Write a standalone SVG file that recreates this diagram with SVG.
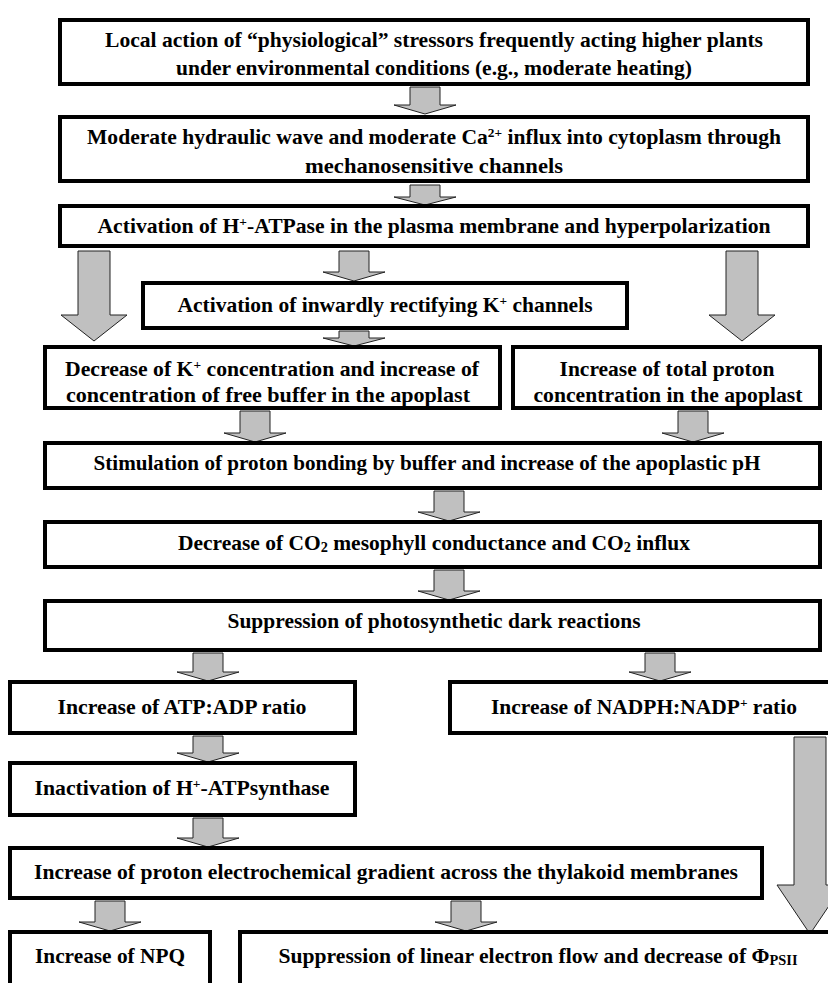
<svg xmlns="http://www.w3.org/2000/svg" width="828" height="983" viewBox="0 0 828 983">
<style>
.box{fill:#fff;stroke:#000;stroke-width:4}
.arr{fill:#c0c0c0;stroke:#222;stroke-width:1}
text{font-family:"Liberation Serif","Times New Roman",serif;font-weight:bold;font-size:21px;fill:#000;text-anchor:middle}
.sup{font-size:13px}
.sub{font-size:14px}
</style>
<rect width="828" height="983" fill="#fff"/>
<g id="connectors">
<path class="arr" d="M410,87H440V105H456L425,114L394,105H410Z"/>
<path class="arr" d="M410,185H440V197H456L425,205L394,197H410Z"/>
<path class="arr" d="M339,251H369V272H385L354,281L323,272H339Z"/>
<path class="arr" d="M339,331H369V338H385L354,346L323,338H339Z"/>
<path class="arr" d="M78,251H110V315H127L94,341L61,315H78Z"/>
<path class="arr" d="M726,251H758V315H775L742,341L709,315H726Z"/>
<path class="arr" d="M240,411H270V433H286L255,442L224,433H240Z"/>
<path class="arr" d="M678,411H708V433H724L693,442L662,433H678Z"/>
<path class="arr" d="M434,491H464V512H480L449,521L418,512H434Z"/>
<path class="arr" d="M434,570H464V591H480L449,600L418,591H434Z"/>
<path class="arr" d="M193,653H223V672H239L208,681L177,672H193Z"/>
<path class="arr" d="M645,653H675V672H691L660,681L629,672H645Z"/>
<path class="arr" d="M193,736H223V753H239L208,762L177,753H193Z"/>
<path class="arr" d="M193,818H223V838H239L208,847L177,838H193Z"/>
<path class="arr" d="M95,901H125V922H141L110,931L79,922H95Z"/>
<path class="arr" d="M451,901H481V922H497L466,931L435,922H451Z"/>
<path class="arr" d="M794,737H826V885H843L810,934L777,885H794Z"/>
</g>
<g id="n1"><rect class="box" x="60" y="20" width="748" height="64"/>
<text x="434" y="47" textLength="658" lengthAdjust="spacingAndGlyphs">Local action of “physiological” stressors frequently acting higher plants</text>
<text x="434" y="75" textLength="516" lengthAdjust="spacingAndGlyphs">under environmental conditions (e.g., moderate heating)</text></g>
<g id="n2"><rect class="box" x="60" y="117" width="748" height="64"/>
<text x="434" y="144" textLength="694" lengthAdjust="spacingAndGlyphs">Moderate hydraulic wave and moderate Ca<tspan class="sup" dy="-7">2+</tspan><tspan dy="7"> influx into cytoplasm through</tspan></text>
<text x="434" y="173" textLength="258" lengthAdjust="spacingAndGlyphs">mechanosensitive channels</text></g>
<g id="n3"><rect class="box" x="60" y="206" width="748" height="40"/>
<text x="434" y="233" textLength="673" lengthAdjust="spacingAndGlyphs">Activation of H<tspan class="sup" dy="-7">+</tspan><tspan dy="7">-ATPase in the plasma membrane and hyperpolarization</tspan></text></g>
<g id="n4"><rect class="box" x="143" y="283" width="484" height="45"/>
<text x="385" y="312" textLength="415" lengthAdjust="spacingAndGlyphs">Activation of inwardly rectifying K<tspan class="sup" dy="-7">+</tspan><tspan dy="7"> channels</tspan></text></g>
<g id="n5"><rect class="box" x="45" y="347" width="455" height="61"/>
<text x="272" y="376" textLength="414" lengthAdjust="spacingAndGlyphs">Decrease of K<tspan class="sup" dy="-7">+</tspan><tspan dy="7"> concentration and increase of</tspan></text>
<text x="268" y="402" textLength="404" lengthAdjust="spacingAndGlyphs">concentration of free buffer in the apoplast</text></g>
<g id="n6"><rect class="box" x="513" y="347" width="307" height="61"/>
<text x="667" y="376" textLength="215" lengthAdjust="spacingAndGlyphs">Increase of total proton</text>
<text x="668" y="402" textLength="269" lengthAdjust="spacingAndGlyphs">concentration in the apoplast</text></g>
<g id="n7"><rect class="box" x="45" y="443" width="775" height="45"/>
<text x="427" y="470" textLength="667" lengthAdjust="spacingAndGlyphs">Stimulation of proton bonding by buffer and increase of the apoplastic pH</text></g>
<g id="n8"><rect class="box" x="45" y="522" width="775" height="45"/>
<text x="434" y="550" textLength="512" lengthAdjust="spacingAndGlyphs">Decrease of CO<tspan class="sub" dy="2">2</tspan><tspan dy="-2"> mesophyll conductance and CO</tspan><tspan class="sub" dy="2">2</tspan><tspan dy="-2"> influx</tspan></text></g>
<g id="n9"><rect class="box" x="45" y="601" width="775" height="49"/>
<text x="434" y="628" textLength="413" lengthAdjust="spacingAndGlyphs">Suppression of photosynthetic dark reactions</text></g>
<g id="n10"><rect class="box" x="10" y="682" width="345" height="51"/>
<text x="182" y="714" textLength="249" lengthAdjust="spacingAndGlyphs">Increase of ATP:ADP ratio</text></g>
<g id="n11"><rect class="box" x="450" y="682" width="390" height="51"/>
<text x="644" y="714" textLength="306" lengthAdjust="spacingAndGlyphs">Increase of NADPH:NADP<tspan class="sup" dy="-7">+</tspan><tspan dy="7"> ratio</tspan></text></g>
<g id="n12"><rect class="box" x="10" y="763" width="345" height="52"/>
<text x="182" y="795" textLength="295" lengthAdjust="spacingAndGlyphs">Inactivation of H<tspan class="sup" dy="-7">+</tspan><tspan dy="7">-ATPsynthase</tspan></text></g>
<g id="n13"><rect class="box" x="10" y="848" width="752" height="50"/>
<text x="386" y="879" textLength="704" lengthAdjust="spacingAndGlyphs">Increase of proton electrochemical gradient across the thylakoid membranes</text></g>
<g id="n14"><rect class="box" x="10" y="932" width="200" height="60"/>
<text x="110" y="963" textLength="150" lengthAdjust="spacingAndGlyphs">Increase of NPQ</text></g>
<g id="n15"><rect class="box" x="240" y="932" width="600" height="60"/>
<text x="538" y="963" textLength="519" lengthAdjust="spacingAndGlyphs">Suppression of linear electron flow and decrease of Φ<tspan class="sub" dy="2">PSII</tspan></text></g>
</svg>
